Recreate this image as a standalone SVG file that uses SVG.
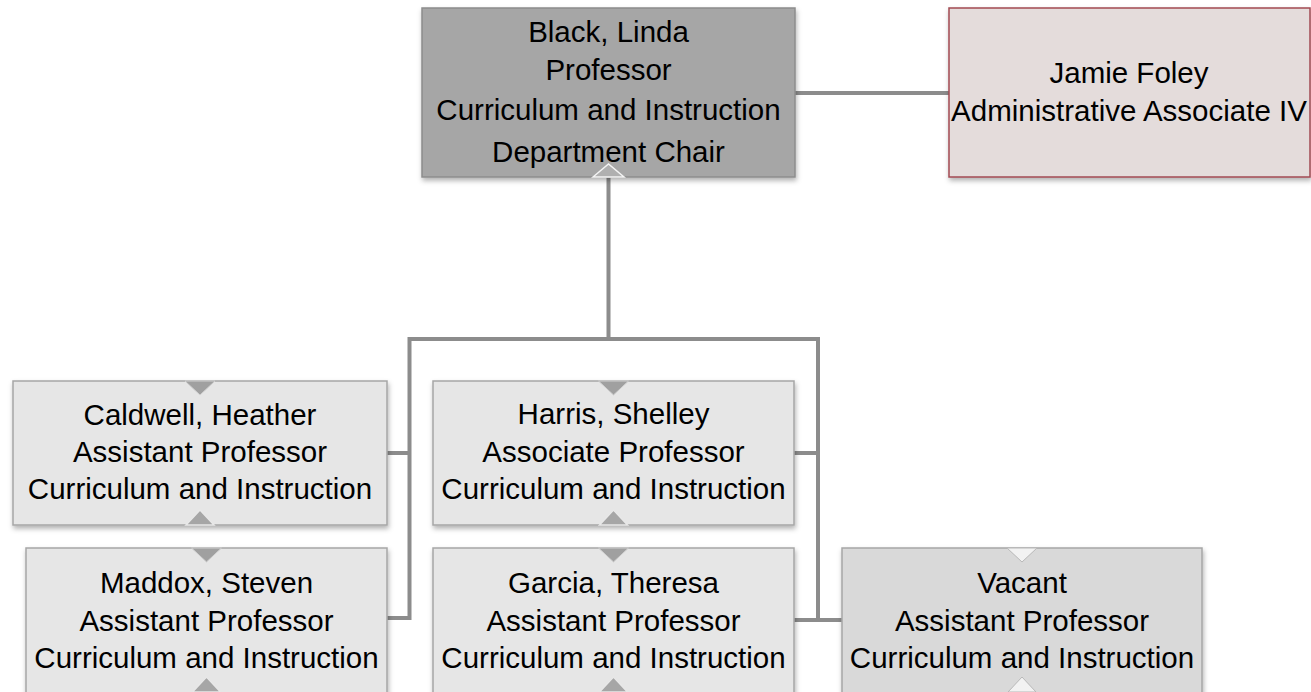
<svg xmlns="http://www.w3.org/2000/svg" width="1311" height="692" viewBox="0 0 1311 692">
<defs>
<filter id="sh" x="-5%" y="-5%" width="112%" height="120%">
<feDropShadow dx="1" dy="3" stdDeviation="2.5" flood-color="#000" flood-opacity="0.3"/>
</filter>
</defs>
<style>
.box{stroke:#a6a6a6;stroke-width:1.5;filter:url(#sh)}
.chair{fill:#a6a6a6;stroke:#8c8c8c}
.assoc{fill:#e4dcdb;stroke:#a24a52}
.child{fill:#e6e6e6}
.vac{fill:#d9d9d9}
.t{font-family:"Liberation Sans",Arial,sans-serif;font-size:29.5px;fill:#000;text-anchor:middle}
.down{fill:#a0a0a0;stroke:#d0d0d0;stroke-width:1}
.up{fill:#b0b0b0;stroke:#f4f4f4;stroke-width:1.5}
.upc{fill:#a6a6a6;stroke:#e8e8e8;stroke-width:1.5}
.vt{fill:#f2f2f2;stroke:#b8b8b8;stroke-width:1}
.c{fill:none;stroke:#8c8c8c;stroke-width:4}
</style>
<g id="connectors">
<line class="c" x1="795" y1="93" x2="949" y2="93"/>
<polyline class="c" points="608.5,177 608.5,339 409.5,339 409.5,618 387,618"/>
<polyline class="c" points="608.5,339 818,339 818,620 842,620"/>
<line class="c" x1="387" y1="453" x2="409.5" y2="453"/>
<line class="c" x1="794" y1="453" x2="818" y2="453"/>
<line class="c" x1="794" y1="620" x2="818" y2="620"/>
</g>
<g id="chair">
<rect class="box chair" x="422" y="8" width="373" height="169"/>
<polygon class="up" points="593,177 608.5,164 624,177"/>
<text class="t" x="608.5" y="42">Black, Linda</text>
<text class="t" x="608.5" y="80">Professor</text>
<text class="t" x="608.5" y="120">Curriculum and Instruction</text>
<text class="t" x="608.5" y="162">Department Chair</text>
</g>
<g id="foley">
<rect class="box assoc" x="949" y="8" width="361" height="169"/>
<text class="t" x="1129" y="83">Jamie Foley</text>
<text class="t" x="1129" y="121">Administrative Associate IV</text>
</g>
<g id="caldwell">
<rect class="box child" x="13" y="381" width="374" height="144"/>
<polygon class="down" points="185,381 200,395 215,381"/>
<polygon class="upc" points="186,525 200,510 214,525"/>
<text class="t" x="200" y="425">Caldwell, Heather</text>
<text class="t" x="200" y="462">Assistant Professor</text>
<text class="t" x="200" y="499">Curriculum and Instruction</text>
</g>
<g id="harris">
<rect class="box child" x="433" y="381" width="361" height="144"/>
<polygon class="down" points="598.5,381 613.5,395 628.5,381"/>
<polygon class="upc" points="599.5,525 613.5,510 627.5,525"/>
<text class="t" x="613.5" y="424">Harris, Shelley</text>
<text class="t" x="613.5" y="462">Associate Professor</text>
<text class="t" x="613.5" y="499">Curriculum and Instruction</text>
</g>
<g id="maddox">
<rect class="box child" x="26" y="548" width="361" height="150"/>
<polygon class="down" points="191.5,548 206.5,562 221.5,548"/>
<polygon class="upc" points="192.5,692 206.5,677 220.5,692"/>
<text class="t" x="206.5" y="593">Maddox, Steven</text>
<text class="t" x="206.5" y="631">Assistant Professor</text>
<text class="t" x="206.5" y="668">Curriculum and Instruction</text>
</g>
<g id="garcia">
<rect class="box child" x="433" y="548" width="361" height="150"/>
<polygon class="down" points="598.5,548 613.5,562 628.5,548"/>
<polygon class="upc" points="599.5,692 613.5,677 627.5,692"/>
<text class="t" x="613.5" y="593">Garcia, Theresa</text>
<text class="t" x="613.5" y="631">Assistant Professor</text>
<text class="t" x="613.5" y="668">Curriculum and Instruction</text>
</g>
<g id="vacant">
<rect class="box vac" x="842" y="548" width="360" height="150"/>
<polygon class="vt" points="1007,548 1022,562 1037,548"/>
<polygon class="vt" points="1008,692 1022,677 1036,692"/>
<text class="t" x="1022" y="593">Vacant</text>
<text class="t" x="1022" y="631">Assistant Professor</text>
<text class="t" x="1022" y="668">Curriculum and Instruction</text>
</g>
</svg>
